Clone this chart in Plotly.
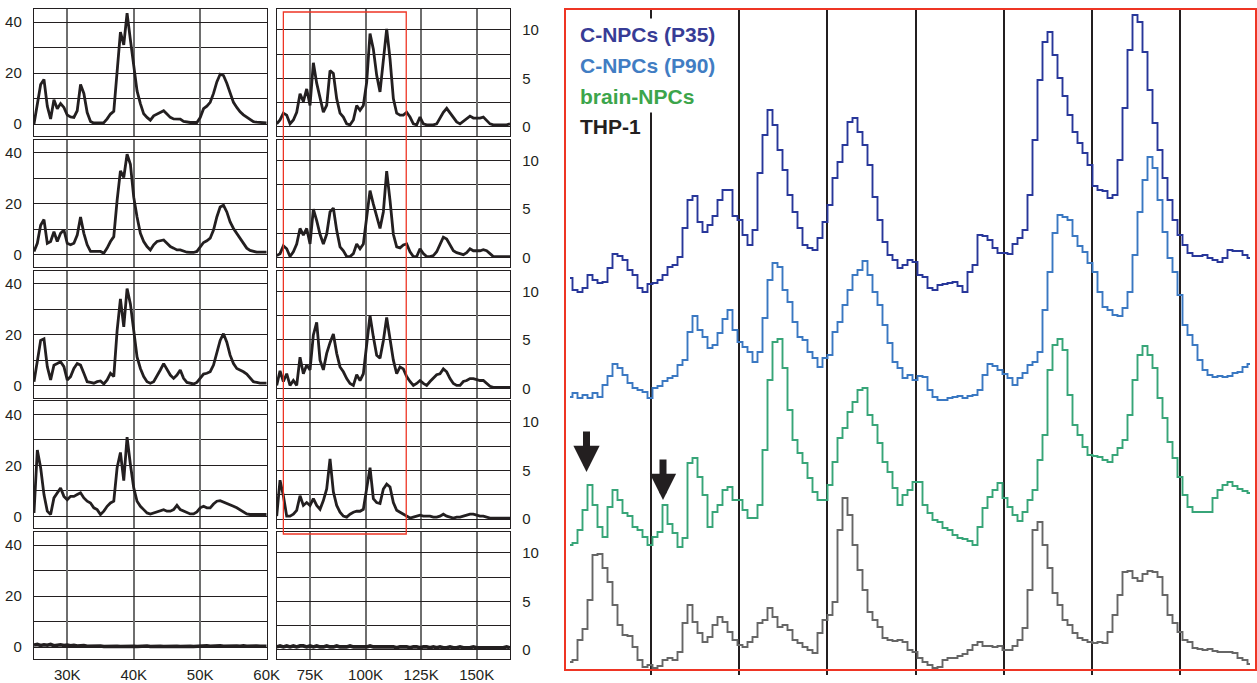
import plotly.graph_objects as go

W, H = 1257, 683
FONT = "Liberation Sans, Arial, Helvetica, sans-serif"
INK = "#231f20"
RED = "#ee3524"

# ---------------- small panels: molecular weight grids (kDa) ----------------
K_LEFT = [25 + 0.5 * i for i in range(71)]      # 25K .. 60K
K_RIGHT = [60 + 1.5 * i for i in range(71)]     # 60K .. 165K

LEFT_R1 = [0, 7, 15.5, 17.5, 7, 2, 9.5, 6, 8, 6.5,
           3.5, 2.8, 2.6, 5.2, 15.5, 12, 4.5, 1, 0.4, 0.4,
           0.4, 0.5, 2, 3.9, 5, 20, 36, 31, 43.5, 33,
           23, 13, 8, 4, 2.6, 1.5, 3.2, 3.8, 4.5, 5.2,
           3.9, 2.6, 2, 1.9, 1.9, 1, 0.7, 0.6, 0.6, 0.6,
           2.5, 6, 7, 8.5, 12, 16.5, 19.5, 19, 16, 12,
           8.5, 6.5, 4.8, 3.6, 2.8, 1.8, 0.9, 0.7, 0.6, 0.5, 0.4]
LEFT_R2 = [1.3, 4.5, 11.6, 13.8, 4.5, 5.2, 9, 5.2, 8.4, 9.7,
           4.5, 3.9, 4.5, 7.7, 14.8, 8.4, 3.9, 1.3, 1.3, 1.3,
           1.3, 0.6, 2.6, 5.2, 7.1, 21.3, 32.9, 30.3, 39.4, 35.5,
           22.6, 14.8, 8.4, 5.2, 3.2, 1.9, 3.9, 5.2, 5.5, 5.8,
           4.5, 3.2, 2.6, 1.9, 1.9, 1.3, 1, 0.9, 0.9, 1.3,
           3.2, 4.8, 5.5, 6.5, 9.7, 14.8, 18.7, 19.4, 16.8, 12.9,
           10.3, 8.4, 6.5, 4.8, 2.6, 1.7, 1.3, 1, 1, 1, 1]
LEFT_R3 = [1.5, 10, 17.7, 18.3, 7.4, 2.2, 8, 8.6, 9.3, 7.4,
           2.2, 3.5, 6.7, 8.6, 8, 4.8, 1.5, 1.2, 0.9, 1.5,
           1.8, 0.6, 2.2, 4.8, 3.5, 21.5, 34, 23, 38, 32,
           20.3, 11.2, 6.7, 3.5, 1.5, 0.9, 1.5, 4.1, 6.1, 8.6,
           6.1, 4.1, 2.8, 4.1, 6.1, 2.8, 1.2, 0.9, 0.6, 1.2,
           2.8, 4.5, 4.8, 5.4, 8, 12.5, 17.7, 20.3, 17, 11.9,
           8.6, 6.7, 6.1, 5.4, 4.5, 2.8, 1.5, 1.2, 0.9, 0.9, 0.9]
LEFT_R4 = [1.3, 26, 19, 8.5, 2, 0.7, 7.2, 9.2, 11.1, 7.8,
           6.5, 7.8, 7.8, 8.5, 9.2, 7.2, 5.9, 5.2, 3.3, 2.6,
           0.7, 2, 3.9, 5.2, 5.9, 19, 25, 14, 31, 20.3,
           11.1, 5.9, 3.9, 2.6, 1.3, 0.9, 1.3, 2, 2.2, 2.6,
           2, 2, 2.6, 4.3, 2.6, 2, 1.6, 0.9, 0.9, 1.7,
           3.3, 3.9, 3.3, 3.3, 4.8, 5.9, 6.1, 5.6, 5.2, 4.6,
           3.9, 3.3, 2.6, 1.7, 0.9, 0.7, 0.7, 0.7, 0.7, 0.7, 0.7]
LEFT_R5 = [0.8, 1.0, 0.6, 0.9, 0.7, 1.0, 0.5, 0.8, 0.9, 0.6,
           0.8, 0.5, 0.7, 0.4, 0.5, 0.6, 0.3, 0.4, 0.5, 0.3,
           0.4, 0.2, 0.3, 0.4, 0.2, 0.3, 0.2, 0.3, 0.4, 0.2,
           0.3, 0.2, 0.3, 0.2, 0.4, 0.2, 0.3, 0.2, 0.3, 0.2,
           0.3, 0.4, 0.2, 0.3, 0.2, 0.3, 0.4, 0.3, 0.2, 0.3,
           0.4, 0.3, 0.5, 0.3, 0.4, 0.3, 0.5, 0.3, 0.4, 0.5,
           0.3, 0.4, 0.3, 0.5, 0.3, 0.4, 0.3, 0.4, 0.3, 0.4, 0.3]

RIGHT_R1 = [0.3, 0.7, 1.4, 1.2, 0.3, 0.7, 1.5, 3.4, 2.6, 3.9,
            2.2, 6.6, 4.5, 2.9, 1.5, 2.2, 5.8, 5.5, 2.9, 1.4,
            1.0, 0.3, 0.2, 0.7, 2.2, 1.7, 2.2, 4.6, 9.6, 8.0,
            5.3, 3.6, 7.0, 10.1, 7.0, 2.9, 1.4, 1.2, 1.2, 1.5,
            1.0, 0.3, 0.2, 1.0, 0.3, 0.2, 0.2, 0.2, 0.3, 0.9,
            1.5, 1.9, 1.4, 0.9, 0.5, 0.3, 0.6, 0.9, 1.1, 0.9,
            0.9, 0.9, 1.0, 0.7, 0.3, 0.2, 0.2, 0.2, 0.2, 0.2, 0.3]
RIGHT_R2 = [0.2, 0.4, 1.2, 0.9, 0.1, 0.6, 1.4, 3.0, 2.3, 3.0,
            1.4, 5.0, 3.8, 2.4, 1.4, 2.4, 4.7, 5.1, 2.8, 1.1,
            0.7, 0.1, 0.1, 0.4, 1.4, 0.9, 1.4, 4.0, 6.9, 5.5,
            4.1, 3.0, 4.7, 8.9, 5.9, 2.4, 1.1, 1.0, 1.3, 1.4,
            0.6, 0.1, 0.1, 0.9, 0.4, 0.1, 0.1, 0.2, 0.6, 1.3,
            2.1, 1.9, 1.3, 0.7, 0.5, 0.4, 0.3, 0.5, 0.9, 0.7,
            0.7, 0.7, 0.8, 0.7, 0.4, 0.1, 0.1, 0.1, 0.1, 0.1, 0.1]
RIGHT_R3 = [0.3, 1.8, 0.7, 1.5, 0.3, 0.8, 0.3, 3.2, 1.5, 2.4,
            1.9, 5.5, 6.8, 2.9, 1.9, 3.6, 4.7, 5.6, 3.6, 2.2,
            1.7, 1.0, 0.5, 0.3, 1.4, 0.8, 1.5, 4.2, 7.5, 5.3,
            3.4, 3.1, 4.9, 7.3, 5.3, 2.9, 1.5, 2.2, 2.0, 1.2,
            0.7, 0.3, 0.5, 0.8, 0.5, 0.3, 0.7, 1.0, 1.4, 1.5,
            2.0, 1.7, 1.0, 0.5, 0.3, 0.3, 0.7, 0.8, 1.0, 1.0,
            0.9, 0.8, 0.8, 0.5, 0.2, 0.1, 0.1, 0.1, 0.1, 0.1, 0.1]
RIGHT_R4 = [0.3, 4.0, 2.4, 0.3, 0.3, 0.5, 0.9, 2.4, 1.4, 1.7,
            1.4, 2.1, 1.4, 1.0, 1.9, 3.1, 6.2, 2.8, 1.4, 0.7,
            0.3, 0.2, 0.5, 0.7, 0.8, 0.8, 1.0, 3.1, 5.3, 2.1,
            1.7, 1.6, 3.1, 3.6, 3.3, 1.7, 0.9, 0.7, 0.5, 0.3,
            0.1, 0.2, 0.3, 0.4, 0.3, 0.3, 0.3, 0.2, 0.2, 0.3,
            0.5, 0.3, 0.2, 0.1, 0.2, 0.2, 0.3, 0.4, 0.5, 0.5,
            0.4, 0.3, 0.3, 0.2, 0.1, 0.1, 0.1, 0.1, 0.1, 0.1, 0.1]
RIGHT_R5 = [0.3, 0.4, 0.3, 0.4, 0.3, 0.4, 0.3, 0.4, 0.4, 0.3,
            0.4, 0.3, 0.4, 0.3, 0.3, 0.4, 0.3, 0.3, 0.4, 0.3,
            0.3, 0.3, 0.4, 0.3, 0.3, 0.3, 0.3, 0.3, 0.4, 0.3,
            0.3, 0.3, 0.3, 0.3, 0.3, 0.3, 0.2, 0.3, 0.3, 0.3,
            0.2, 0.3, 0.3, 0.2, 0.3, 0.3, 0.2, 0.3, 0.2, 0.3,
            0.2, 0.2, 0.3, 0.2, 0.2, 0.3, 0.2, 0.2, 0.2, 0.3,
            0.2, 0.2, 0.2, 0.2, 0.2, 0.2, 0.2, 0.2, 0.2, 0.3, 0.2]

LEFT_ROWS = [LEFT_R1, LEFT_R2, LEFT_R3, LEFT_R4, LEFT_R5]
RIGHT_ROWS = [RIGHT_R1, RIGHT_R2, RIGHT_R3, RIGHT_R4, RIGHT_R5]
LEFT_TICKS = [30, 40, 50, 60]
RIGHT_TICKS = [75, 100, 125, 150]
ZOOM_WINDOW = [63, 118.3]   # kDa window outlined in red

# ---------------- enlarged panel: stacked step profiles ----------------
X_BINS = list(range(137))
SERIES = ["C-NPCs (P35)", "C-NPCs (P90)", "brain-NPCs", "THP-1"]
P35_VALS = [22, 10, 8, 12, 25, 20, 17, 18, 32, 46,
            44, 40, 30, 25, 12, 8, 16, 17, 20, 25,
            33, 35, 43, 72, 100, 104, 78, 68, 75, 84,
            100, 110, 110, 84, 80, 65, 55, 70, 127, 165,
            190, 175, 150, 130, 105, 88, 72, 55, 52, 50,
            62, 78, 95, 122, 138, 155, 178, 182, 168, 155,
            135, 103, 80, 58, 45, 40, 32, 35, 40, 38,
            25, 23, 12, 10, 15, 16, 17, 18, 14, 8,
            28, 35, 65, 64, 60, 52, 47, 47, 46, 56,
            62, 70, 105, 160, 220, 258, 268, 245, 222, 204,
            185, 168, 157, 147, 135, 114, 110, 109, 102, 105,
            140, 192, 250, 285, 278, 248, 210, 177, 150, 122,
            100, 80, 65, 55, 47, 44, 44, 45, 42, 40,
            38, 42, 50, 49, 49, 45, 42]
P90_VALS = [3, 7, 2, 5, 2, 7, 3, 15, 24, 36,
            32, 25, 17, 12, 10, 8, 2, 12, 14, 19,
            22, 24, 35, 40, 68, 84, 70, 63, 52, 55,
            67, 81, 90, 70, 58, 53, 48, 38, 48, 82,
            120, 137, 133, 110, 98, 78, 63, 60, 48, 42,
            33, 42, 45, 68, 78, 95, 110, 125, 130, 139,
            125, 108, 95, 75, 57, 38, 32, 22, 25, 20,
            24, 23, 10, 3, 0, 0, 2, 3, 4, 2,
            4, 5, 10, 25, 36, 34, 30, 26, 22, 15,
            22, 27, 35, 38, 48, 90, 128, 167, 185, 183,
            180, 164, 154, 148, 137, 128, 108, 93, 90, 85,
            84, 92, 108, 145, 188, 220, 243, 232, 200, 168,
            142, 128, 105, 75, 65, 55, 40, 30, 25, 23,
            24, 23, 24, 27, 28, 33, 36]
BRAIN_VALS = [3, 5, 18, 38, 63, 43, 21, 11, 41, 58,
              48, 35, 32, 21, 18, 11, 3, 11, 16, 43,
              24, 15, 1, 10, 85, 90, 71, 53, 21, 36,
              43, 58, 61, 48, 48, 38, 30, 30, 43, 98,
              168, 206, 209, 180, 138, 108, 95, 85, 70, 56,
              48, 48, 63, 86, 110, 120, 136, 146, 158, 160,
              133, 123, 105, 86, 76, 60, 43, 53, 58, 66,
              66, 43, 35, 28, 26, 20, 18, 13, 10, 9,
              7, 3, 21, 40, 51, 58, 65, 50, 41, 33,
              27, 36, 48, 58, 88, 113, 178, 203, 209, 198,
              153, 123, 113, 101, 93, 92, 91, 88, 86, 93,
              100, 108, 133, 168, 193, 202, 193, 180, 150, 130,
              106, 90, 71, 53, 41, 36, 36, 36, 36, 50,
              58, 63, 66, 62, 59, 57, 55]
THP_VALS = [6, 8, 28, 39, 68, 113, 114, 100, 86, 63,
            43, 33, 32, 21, 8, 1, 3, 0, 2, 8,
            10, 8, 16, 45, 63, 46, 35, 26, 31, 43,
            51, 46, 36, 28, 23, 21, 26, 31, 45, 48,
            60, 51, 41, 43, 38, 28, 25, 21, 18, 15,
            35, 48, 53, 66, 138, 170, 153, 123, 98, 78,
            56, 48, 41, 30, 28, 27, 28, 26, 18, 16,
            10, 6, 3, 0, 1, 8, 10, 10, 12, 14,
            18, 23, 26, 22, 22, 21, 22, 18, 18, 22,
            28, 40, 78, 138, 146, 123, 100, 75, 63, 48,
            43, 35, 30, 28, 26, 25, 26, 25, 36, 53,
            73, 96, 97, 90, 87, 94, 97, 96, 91, 73,
            53, 45, 36, 28, 26, 20, 19, 18, 19, 17,
            16, 16, 16, 15, 10, 8, 4]
BIG_VALUES = [P35_VALS, P90_VALS, BRAIN_VALS, THP_VALS]

# ---------------- styling (not data) ----------------
LINE_COLORS = ["#28379a", "#3a78c2", "#37a578", "#666666"]
TEXT_COLORS = ["#373c96", "#417dc3", "#3ca54b", INK]
STACK_OFFSETS = [369, 269, 121, 1]
ARROW_AT = [(3.3, 4, 13), (18.6, 19, 5)]   # (bin position, bin of peak, gap)


def dom_x(a, b):
    return [a / W, b / W]


def dom_y(top, bottom):
    return [1 - bottom / H, 1 - top / H]


fig = go.Figure()
layout = dict(template="none", width=W, height=H,
              margin=dict(l=0, r=0, t=0, b=0, pad=0, autoexpand=False),
              paper_bgcolor="white", plot_bgcolor="white",
              font=dict(family=FONT, color=INK), showlegend=False)

COL_X = [(34, 266.7), (276.7, 510)]
ROW_TOP0, ROW_PITCH, ROW_H = 9, 130.75, 127.0

for r in range(5):
    top = ROW_TOP0 + ROW_PITCH * r
    for c in range(2):
        n = 2 * r + c + 1
        xs = K_LEFT if c == 0 else K_RIGHT
        ys = LEFT_ROWS[r] if c == 0 else RIGHT_ROWS[r]
        fig.add_trace(go.Scatter(x=xs, y=ys, mode="lines",
                                 line=dict(color=INK, width=2.8 if r < 4 else 3.6),
                                 xaxis=f"x{n}", yaxis=f"y{n}", hoverinfo="skip"))
        ticks_k = LEFT_TICKS if c == 0 else RIGHT_TICKS
        xa = dict(domain=dom_x(*COL_X[c]), anchor=f"y{n}", automargin=False,
                  range=[25, 60] if c == 0 else [60, 165],
                  tickvals=ticks_k, ticktext=[f"{t}K" for t in ticks_k],
                  showticklabels=(r == 4),
                  tickfont=dict(size=15, color=INK), ticks="",
                  ticklabelstandoff=2,
                  showgrid=True, gridcolor="#6e6e6e", gridwidth=1.5,
                  zeroline=False, showline=True, mirror=True,
                  linecolor=INK, linewidth=1.4)
        if c == 0:
            ya = dict(range=[-4.7, 45.1], tick0=0, dtick=20,
                      minor=dict(tick0=0, dtick=10, showgrid=True,
                                 gridcolor=INK, gridwidth=1.4),
                      side="left")
        else:
            ya = dict(range=[-0.95, 12.14], tick0=0, dtick=5,
                      minor=dict(tick0=0, dtick=2.5, showgrid=True,
                                 gridcolor=INK, gridwidth=1.4),
                      side="right")
        ya.update(domain=dom_y(top, top + ROW_H), anchor=f"x{n}", automargin=False,
                  showgrid=True, gridcolor=INK, gridwidth=1.4,
                  tickfont=dict(size=15, color=INK), ticks="",
                  ticklabelstandoff=8, zeroline=False,
                  showline=True, mirror=True, linecolor=INK, linewidth=1.4)
        key = "" if n == 1 else str(n)
        layout["xaxis" + key] = xa
        layout["yaxis" + key] = ya

# enlarged panel
for name, vals, col, off in zip(SERIES, BIG_VALUES, LINE_COLORS, STACK_OFFSETS):
    fig.add_trace(go.Scatter(x=X_BINS, y=[v + off for v in vals], mode="lines",
                             line=dict(color=col, width=1.9, shape="hvh"),
                             name=name, xaxis="x11", yaxis="y11", hoverinfo="skip"))

layout["xaxis11"] = dict(domain=dom_x(565.7, 1255), anchor="y11", automargin=False,
                         range=[-0.86, 137.0], tick0=16.2, dtick=17.64,
                         showgrid=True, gridcolor=INK, gridwidth=1.8,
                         showticklabels=False, ticks="outside", ticklen=4,
                         tickwidth=1.8, tickcolor=INK, zeroline=False,
                         showline=True, mirror=True, linecolor=RED, linewidth=2)
layout["yaxis11"] = dict(domain=dom_y(10, 669), anchor="x11", range=[0, 659],
                         automargin=False,
                         showgrid=False, showticklabels=False, zeroline=False,
                         showline=True, mirror=True, linecolor=RED, linewidth=2)

# red outline of the enlarged window on the small panels
shapes = [dict(type="rect", xref="x2", yref="paper",
               x0=ZOOM_WINDOW[0], x1=ZOOM_WINDOW[1],
               y0=1 - 534 / H, y1=1 - 12 / H,
               line=dict(color=RED, width=1.3), layer="above")]

annotations = []
for i, (name, tc) in enumerate(zip(SERIES, TEXT_COLORS)):
    annotations.append(dict(xref="paper", yref="paper", x=575 / W, y=1 - (34 + 31 * i) / H,
                            xanchor="left", yanchor="middle", showarrow=False,
                            text=f"<b>{name}</b>", font=dict(size=21, color=tc, family=FONT),
                            bgcolor="white", borderpad=4))
for pos, peak_bin, gap in ARROW_AT:
    annotations.append(dict(xref="x11", yref="y11", x=pos,
                            y=STACK_OFFSETS[2] + BRAIN_VALS[peak_bin] + gap,
                            text="", showarrow=True, ax=0, ay=-42,
                            arrowhead=2, arrowsize=0.75, arrowwidth=7,
                            arrowcolor=INK, standoff=0))

layout["shapes"] = shapes
layout["annotations"] = annotations
fig.update_layout(**layout)

fig.write_html("out.html", config={"displayModeBar": False},
               post_script="document.body.style.margin='0';document.body.style.overflow='hidden';")
